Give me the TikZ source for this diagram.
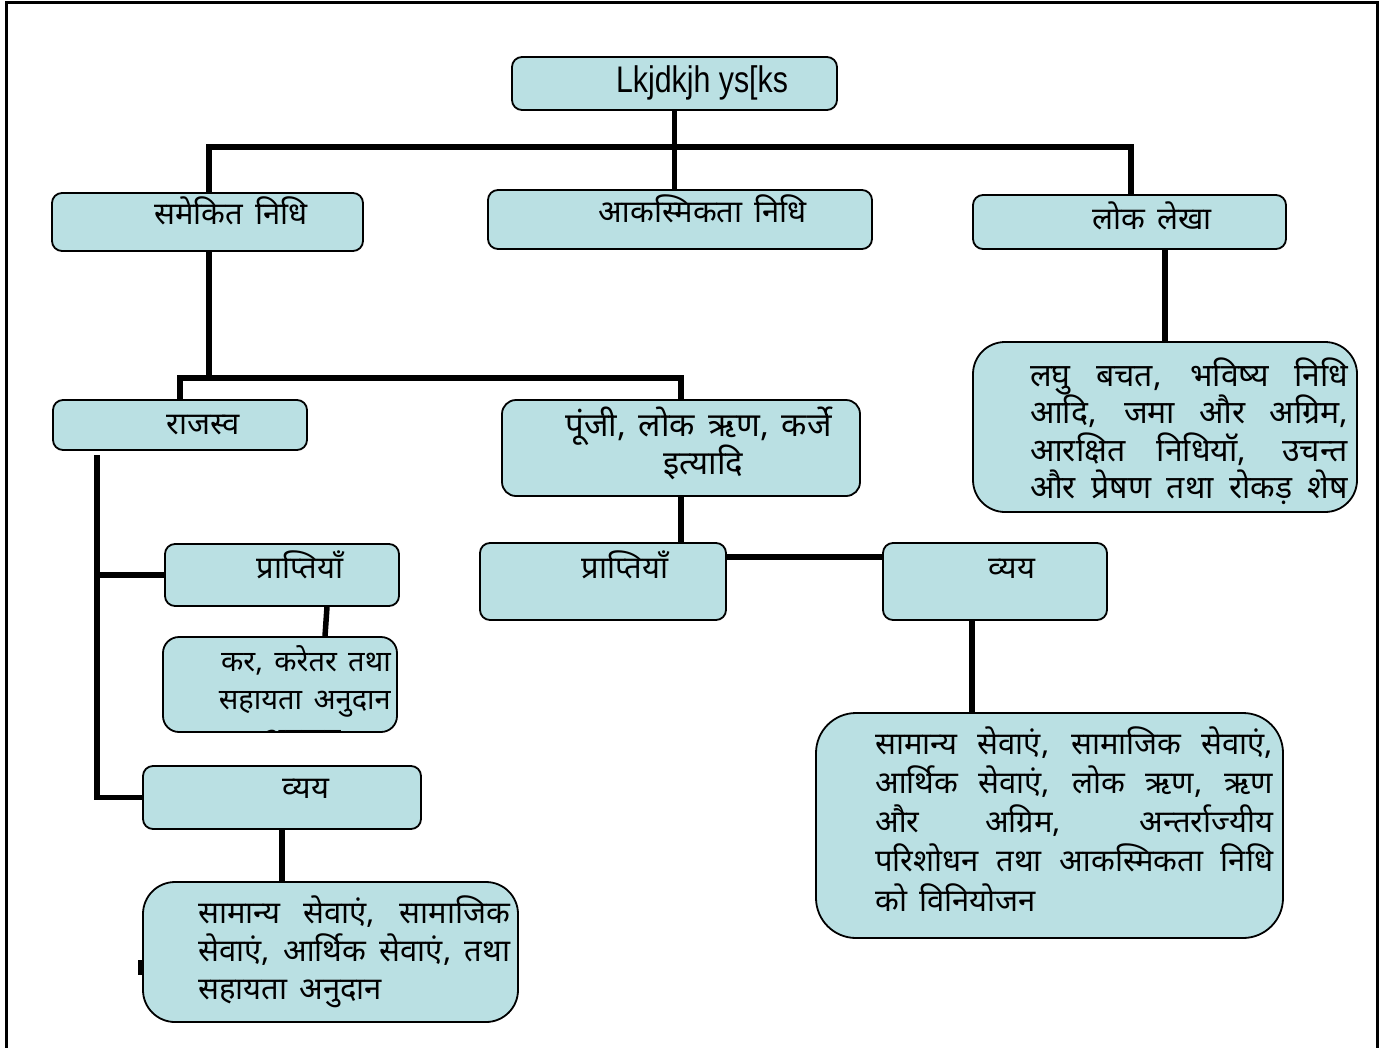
\documentclass[tikz,border=0pt]{standalone}
\usepackage{fontspec}
\setmainfont{Liberation Sans}
\newfontfamily\hindi[Script=Devanagari, WordSpace=1.5]{Noto Sans}
\definecolor{boxfill}{HTML}{BAE0E3}
\newcommand\jline[2]{\hbox to #1{#2}}
\newcommand\hsz[1]{\hindi\fontsize{#1}{37.5}\selectfont\lineskiplimit=-100pt\lineskip=0pt}
\tikzset{
  box/.style={draw=black, line width=1.8pt, fill=boxfill, rounded corners=10pt, inner sep=0pt},
  bigbox/.style={box, rounded corners=32pt},
  conn/.style={line width=5.5pt, black},
  lbl/.style={inner sep=0pt, anchor=base, font=\hsz{31}},
  para/.style={lbl, anchor=base west},
}
\begin{document}
\begin{tikzpicture}[x=1pt, y=-1pt]
\useasboundingbox (0,0) rectangle (1389,1047);
% frame
\draw[line width=3pt] (6,1052) -- (6,2) -- (1377,2) -- (1377,1052);

% boxes
\node[box, minimum width=325pt, minimum height=53pt] (top) at (674.5,83.5) {};
\node[box, minimum width=311pt, minimum height=58pt] (sam) at (207.5,222) {};
\node[box, minimum width=384pt, minimum height=59pt] (aak) at (680,219.5) {};
\node[box, minimum width=313pt, minimum height=54pt] (lok) at (1129.5,222) {};
\node[bigbox, minimum width=384pt, minimum height=170pt] (lokd) at (1165,427) {};
\node[box, minimum width=254pt, minimum height=50pt] (raj) at (180,425) {};
\node[box, minimum width=358pt, minimum height=96pt, rounded corners=14pt] (punji) at (681,448) {};
\node[box, minimum width=246pt, minimum height=77pt] (prm) at (603,581.5) {};
\node[box, minimum width=224pt, minimum height=77pt] (vyr) at (995,581.5) {};
\node[box, minimum width=234pt, minimum height=62pt] (prl) at (282,575) {};
\node[box, minimum width=234pt, minimum height=95pt, rounded corners=16pt] (kar) at (280,684.5) {};
\node[box, minimum width=278pt, minimum height=63pt] (vyl) at (282,797.5) {};
\node[bigbox, minimum width=375pt, minimum height=140pt] (bl) at (330.5,952) {};
\node[bigbox, minimum width=467pt, minimum height=225pt, rounded corners=40pt] (br) at (1049.5,825.5) {};

% connectors
\coordinate (h1) at (209,147);
\coordinate (h2) at (1131,147);
\coordinate (h3) at (209,378);
\coordinate (rv) at (97,455);
\draw[conn] (top.south) -- (top.south |- aak.north);
\draw[conn] (sam.north -| h1) -- (h1) -- (h2) -- (lok.north -| h2);
\draw[conn] (sam.south -| h3) -- (h3);
\draw[conn] (raj.north) -- (raj.north |- h3) -- (punji.north |- h3) -- (punji.north);
\draw[conn] (lokd.north) -- (lokd.north |- lok.south);
\draw[conn] (rv) -- (rv |- vyl.west) -- (vyl.west);
\draw[conn] (rv |- prl.west) -- (prl.west);
\draw[conn] ([xshift=45pt]prl.south) -- ([xshift=45pt]kar.north);
\draw[conn] (vyl.south) -- (vyl.south |- bl.north);
\draw[conn] (punji.south) -- (punji.south |- prm.north);
\draw[conn] ([yshift=24.5pt]prm.east) -- ([yshift=24.5pt]vyr.west);
\draw[conn] ([xshift=-23pt]vyr.south) -- ([xshift=-23pt]vyr.south |- br.north);
\draw[line width=3.5pt] ([shift={(-2pt,-8pt)}]bl.west) -- ([shift={(-2pt,-23pt)}]bl.west);

% labels
\node[inner sep=0pt, anchor=base, font=\fontsize{37}{40}\selectfont] (ttop) at (702,92) {\scalebox{0.82}[1]{Lkjdkjh ys[ks}};
\node[lbl] (tsam) at (231,224) {समेकित निधि};
\node[lbl] (taak) at (703,222) {आकस्मिकता निधि};
\node[lbl] (tlok) at (1152,229) {लोक लेखा};
\node[lbl] (traj) at (203,434) {राजस्व};
\node[lbl, font=\hsz{33}] (tpunji1) at (698.5,436) {पूंजी, लोक ऋण, कर्जे};
\node[lbl, font=\hsz{33}] (tpunji2) at (703.5,474) {इत्यादि};
\node[lbl] (tprm) at (625,578) {प्राप्तियाँ};
\node[lbl] (tvyr) at (1012,578) {व्यय};
\node[lbl] (tprl) at (300,578) {प्राप्तियाँ};
\node[lbl] (tvyl) at (306,798) {व्यय};
\node[lbl, anchor=base east, font=\hsz{29}] (tkar) at (391,671) {\vtop{\baselineskip=38pt
  \jline{173pt}{\hfill कर, करेतर तथा}
  \jline{173pt}{\hfill सहायता अनुदान}}};
\begin{scope}
\clip ([shift={(1pt,1pt)}]kar.south west) rectangle ([shift={(-1pt,-1pt)}]kar.north east);
\node[lbl, font=\hsz{29}] (tkar3) at (302,748) {अनुदान};
\end{scope}
\node[para, font=\hsz{32}] (tlokd) at (1030,386) {\vtop{\baselineskip=37.5pt
  \jline{318pt}{लघु बचत, भविष्य निधि}
  \jline{318pt}{आदि, जमा और अग्रिम,}
  \jline{318pt}{आरक्षित निधियॉ, उचन्त}
  \jline{318pt}{और प्रेषण तथा रोकड़ शेष}}};
\node[para] (tbl) at (198,923) {\vtop{\baselineskip=38pt
  \jline{312pt}{सामान्य सेवाएं, सामाजिक}
  \jline{312pt}{सेवाएं, आर्थिक सेवाएं, तथा}
  \hbox{सहायता अनुदान}}};
\node[para] (tbr) at (875,754) {\vtop{\baselineskip=39.25pt
  \jline{398pt}{सामान्य सेवाएं, सामाजिक सेवाएं,}
  \jline{398pt}{आर्थिक सेवाएं, लोक ऋण, ऋण}
  \jline{398pt}{और अग्रिम, अन्तर्राज्यीय}
  \jline{398pt}{परिशोधन तथा आकस्मिकता निधि}
  \hbox{को विनियोजन}}};
\end{tikzpicture}
\end{document}
